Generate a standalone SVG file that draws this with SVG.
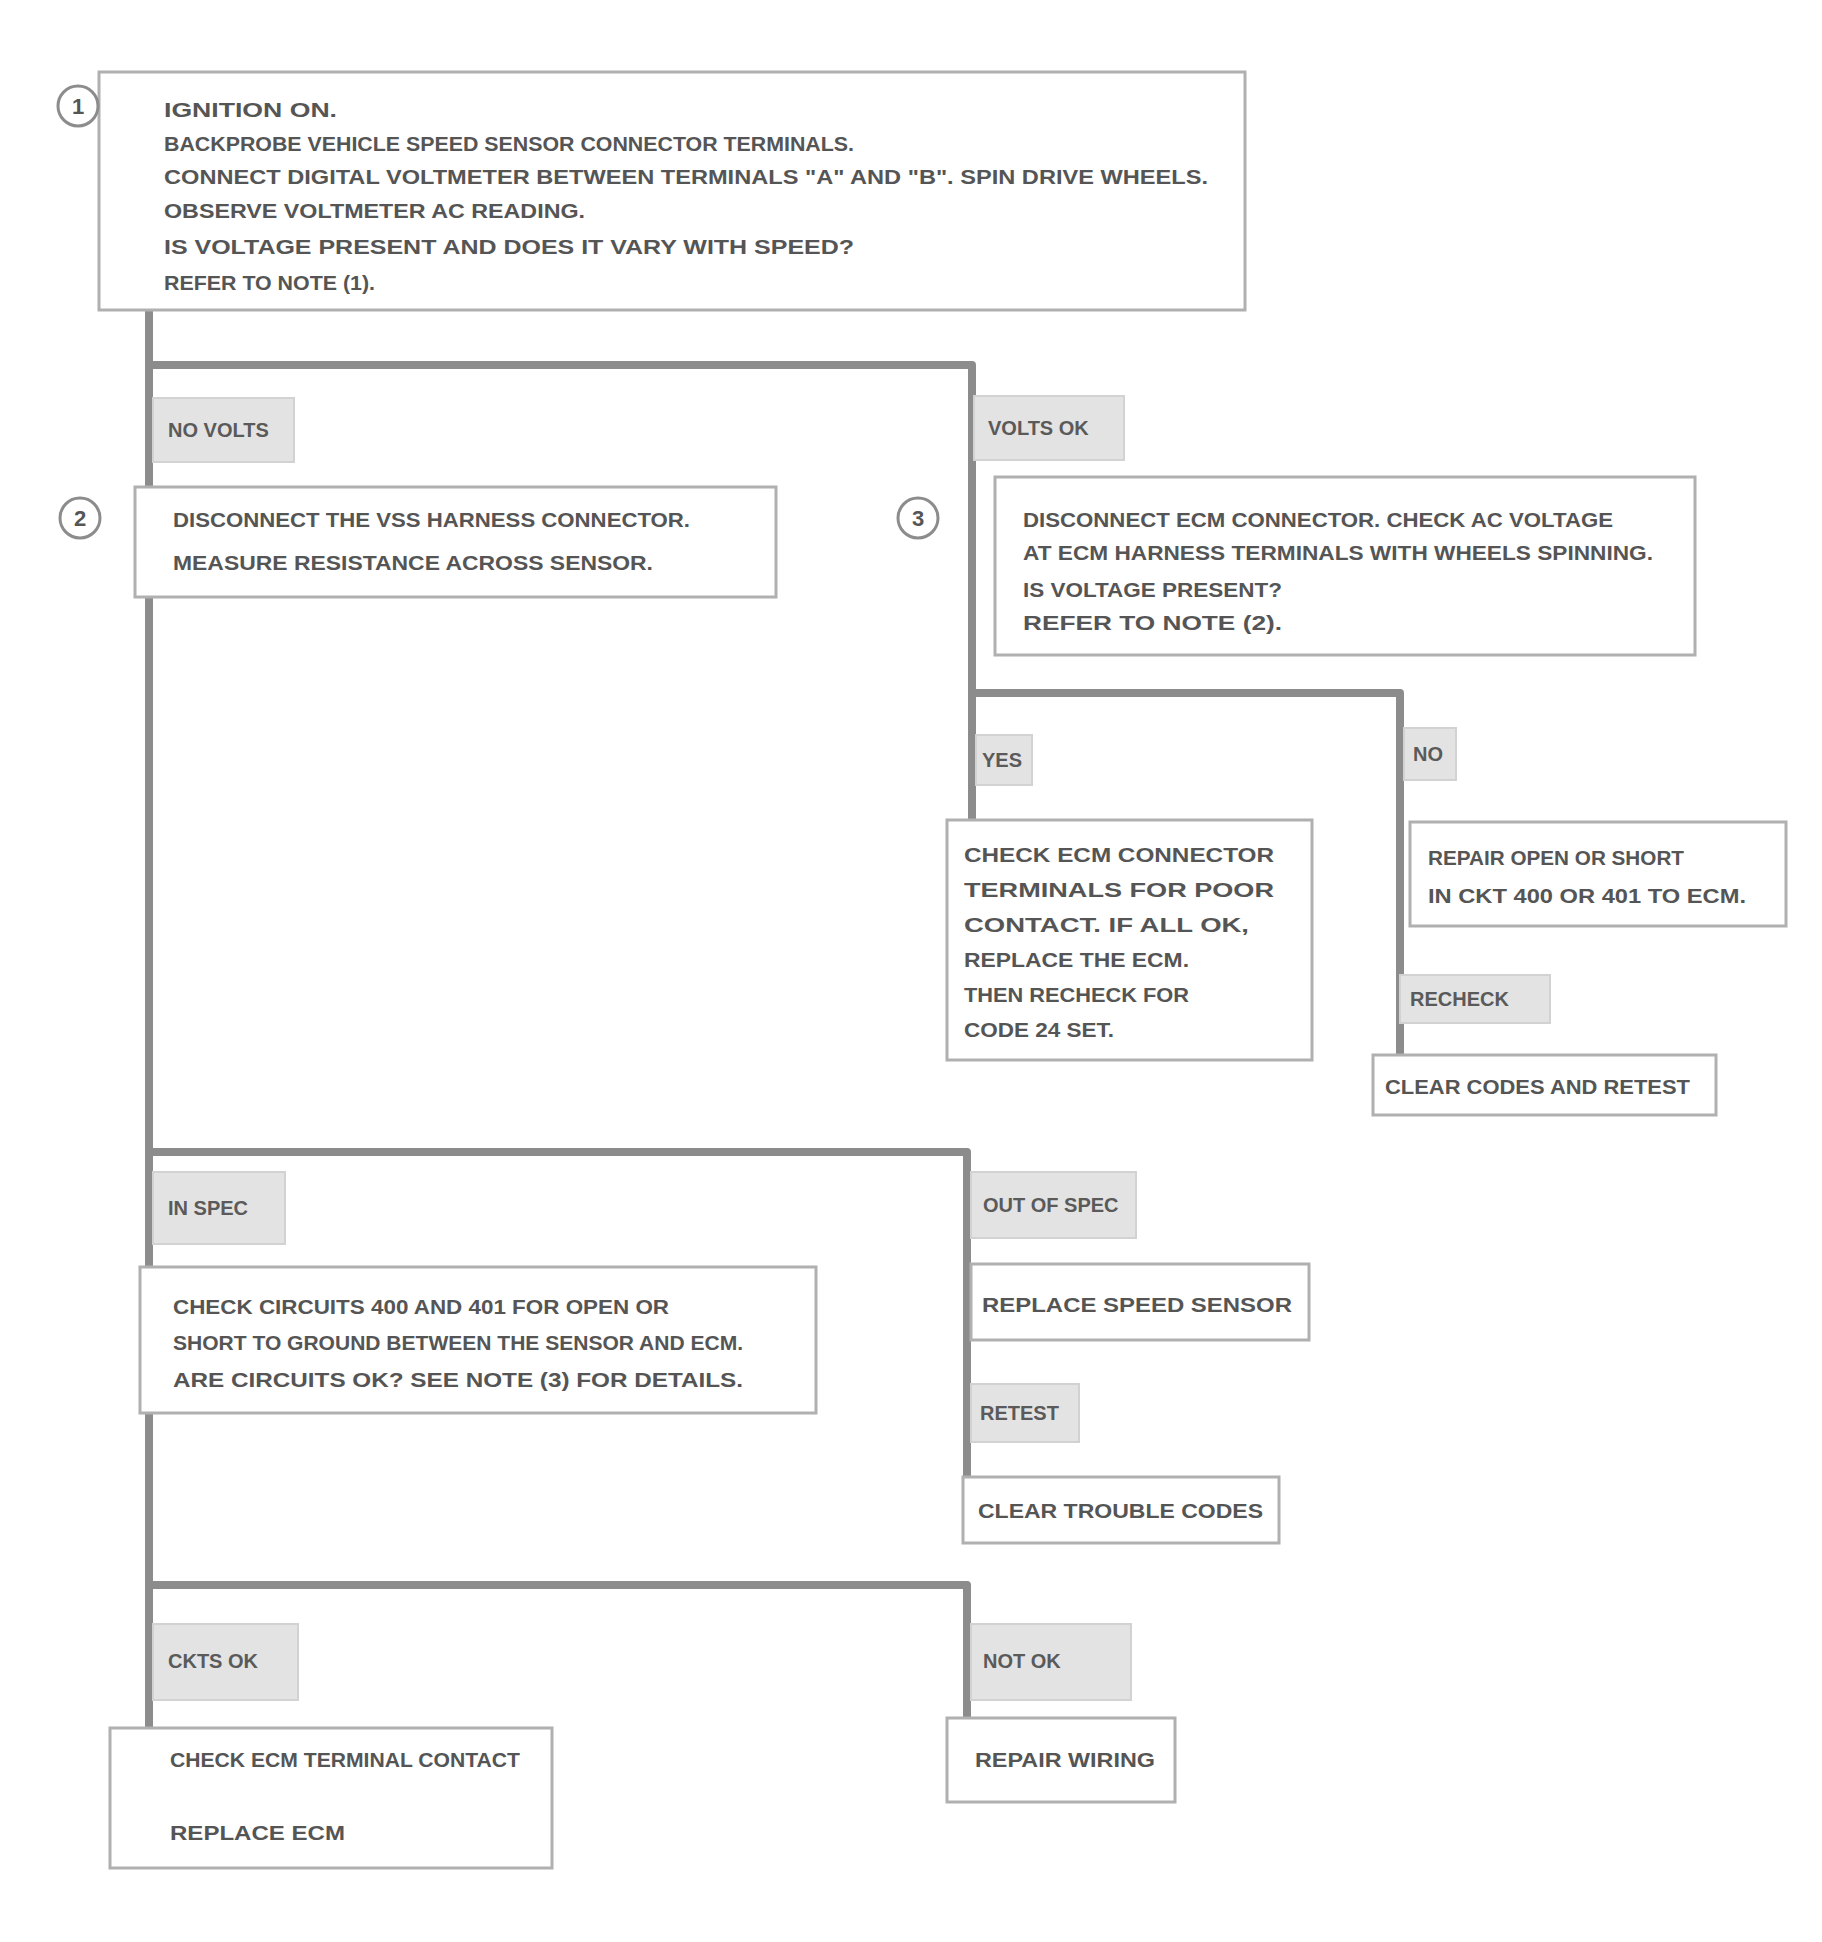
<svg xmlns="http://www.w3.org/2000/svg" width="1822" height="1942" viewBox="0 0 1822 1942">
<style>
.bg{fill:#ffffff}
.box{fill:#ffffff;stroke:#b0b0b0;stroke-width:3}
.lbl{fill:#e3e3e3;stroke:#d2d2d2;stroke-width:2}
.t{font-family:"Liberation Sans",Arial,sans-serif;font-weight:bold;font-size:21px;fill:#555555}
.lt{font-family:"Liberation Sans",Arial,sans-serif;font-weight:bold;font-size:20px;fill:#5a5a5a}
.conn{fill:none;stroke:#8c8c8c;stroke-width:8;stroke-linejoin:round;stroke-linecap:square}
.mk{fill:#ffffff;stroke:#8c8c8c;stroke-width:3}
.mt{font-family:"Liberation Sans",Arial,sans-serif;font-weight:bold;font-size:22px;fill:#555555;text-anchor:middle}
</style>
<rect class="bg" x="0" y="0" width="1822" height="1942"/>

<g id="connectors">
  <path class="conn" d="M149,310 V1728"/>
  <path class="conn" d="M149,365 H972 V820"/>
  <path class="conn" d="M972,693 H1400 V1055"/>
  <path class="conn" d="M149,1152 H967 V1476"/>
  <path class="conn" d="M149,1585 H967 V1718"/>
</g>

<g id="node-start">
  <rect class="box" x="99" y="72" width="1146" height="238"/>
  <text class="t" x="164" y="117" textLength="173" lengthAdjust="spacingAndGlyphs">IGNITION ON.</text>
  <text class="t" x="164" y="151" textLength="690" lengthAdjust="spacingAndGlyphs">BACKPROBE VEHICLE SPEED SENSOR CONNECTOR TERMINALS.</text>
  <text class="t" x="164" y="184" textLength="1044" lengthAdjust="spacingAndGlyphs">CONNECT DIGITAL VOLTMETER BETWEEN TERMINALS "A" AND "B". SPIN DRIVE WHEELS.</text>
  <text class="t" x="164" y="218" textLength="421" lengthAdjust="spacingAndGlyphs">OBSERVE VOLTMETER AC READING.</text>
  <text class="t" x="164" y="254" textLength="690" lengthAdjust="spacingAndGlyphs">IS VOLTAGE PRESENT AND DOES IT VARY WITH SPEED?</text>
  <text class="t" x="164" y="290" textLength="211" lengthAdjust="spacingAndGlyphs">REFER TO NOTE (1).</text>
</g>
<g id="marker-1">
  <circle class="mk" cx="78" cy="106" r="20"/>
  <text class="mt" x="78" y="114">1</text>
</g>

<g id="label-a-left">
  <rect class="lbl" x="153" y="398" width="141" height="64"/>
  <text class="lt" x="168" y="437">NO VOLTS</text>
</g>
<g id="label-a-right">
  <rect class="lbl" x="974" y="396" width="150" height="64"/>
  <text class="lt" x="988" y="435">VOLTS OK</text>
</g>

<g id="node-left-a">
  <rect class="box" x="135" y="487" width="641" height="110"/>
  <text class="t" x="173" y="527" textLength="517" lengthAdjust="spacingAndGlyphs">DISCONNECT THE VSS HARNESS CONNECTOR.</text>
  <text class="t" x="173" y="570" textLength="480" lengthAdjust="spacingAndGlyphs">MEASURE RESISTANCE ACROSS SENSOR.</text>
</g>
<g id="marker-2">
  <circle class="mk" cx="80" cy="518" r="20"/>
  <text class="mt" x="80" y="526">2</text>
</g>

<g id="node-right-a">
  <rect class="box" x="995" y="477" width="700" height="178"/>
  <text class="t" x="1023" y="527" textLength="590" lengthAdjust="spacingAndGlyphs">DISCONNECT ECM CONNECTOR. CHECK AC VOLTAGE</text>
  <text class="t" x="1023" y="560" textLength="630" lengthAdjust="spacingAndGlyphs">AT ECM HARNESS TERMINALS WITH WHEELS SPINNING.</text>
  <text class="t" x="1023" y="597" textLength="259" lengthAdjust="spacingAndGlyphs">IS VOLTAGE PRESENT?</text>
  <text class="t" x="1023" y="630" textLength="259" lengthAdjust="spacingAndGlyphs">REFER TO NOTE (2).</text>
</g>
<g id="marker-3">
  <circle class="mk" cx="918" cy="518" r="20"/>
  <text class="mt" x="918" y="526">3</text>
</g>

<g id="label-sub-yes">
  <rect class="lbl" x="976" y="735" width="56" height="50"/>
  <text class="lt" x="982" y="767">YES</text>
</g>
<g id="label-sub-no">
  <rect class="lbl" x="1404" y="728" width="52" height="52"/>
  <text class="lt" x="1413" y="761">NO</text>
</g>

<g id="node-sub-left">
  <rect class="box" x="947" y="820" width="365" height="240"/>
  <text class="t" x="964" y="862" textLength="310" lengthAdjust="spacingAndGlyphs">CHECK ECM CONNECTOR</text>
  <text class="t" x="964" y="897" textLength="310" lengthAdjust="spacingAndGlyphs">TERMINALS FOR POOR</text>
  <text class="t" x="964" y="932" textLength="285" lengthAdjust="spacingAndGlyphs">CONTACT. IF ALL OK,</text>
  <text class="t" x="964" y="967" textLength="225" lengthAdjust="spacingAndGlyphs">REPLACE THE ECM.</text>
  <text class="t" x="964" y="1002" textLength="225" lengthAdjust="spacingAndGlyphs">THEN RECHECK FOR</text>
  <text class="t" x="964" y="1037" textLength="150" lengthAdjust="spacingAndGlyphs">CODE 24 SET.</text>
</g>

<g id="node-sub-right">
  <rect class="box" x="1410" y="822" width="376" height="104"/>
  <text class="t" x="1428" y="865" textLength="256" lengthAdjust="spacingAndGlyphs">REPAIR OPEN OR SHORT</text>
  <text class="t" x="1428" y="903" textLength="318" lengthAdjust="spacingAndGlyphs">IN CKT 400 OR 401 TO ECM.</text>
</g>
<g id="label-recheck">
  <rect class="lbl" x="1400" y="975" width="150" height="48"/>
  <text class="lt" x="1410" y="1006">RECHECK</text>
</g>
<g id="node-sub-end">
  <rect class="box" x="1373" y="1055" width="343" height="60"/>
  <text class="t" x="1385" y="1094" textLength="305" lengthAdjust="spacingAndGlyphs">CLEAR CODES AND RETEST</text>
</g>

<g id="label-b-left">
  <rect class="lbl" x="153" y="1172" width="132" height="72"/>
  <text class="lt" x="168" y="1215">IN SPEC</text>
</g>
<g id="label-b-right">
  <rect class="lbl" x="971" y="1172" width="165" height="66"/>
  <text class="lt" x="983" y="1212">OUT OF SPEC</text>
</g>

<g id="node-left-b">
  <rect class="box" x="140" y="1267" width="676" height="146"/>
  <text class="t" x="173" y="1314" textLength="496" lengthAdjust="spacingAndGlyphs">CHECK CIRCUITS 400 AND 401 FOR OPEN OR</text>
  <text class="t" x="173" y="1350" textLength="570" lengthAdjust="spacingAndGlyphs">SHORT TO GROUND BETWEEN THE SENSOR AND ECM.</text>
  <text class="t" x="173" y="1387" textLength="570" lengthAdjust="spacingAndGlyphs">ARE CIRCUITS OK? SEE NOTE (3) FOR DETAILS.</text>
</g>

<g id="node-right-b1">
  <rect class="box" x="971" y="1264" width="338" height="76"/>
  <text class="t" x="982" y="1312" textLength="310" lengthAdjust="spacingAndGlyphs">REPLACE SPEED SENSOR</text>
</g>
<g id="label-retest">
  <rect class="lbl" x="971" y="1384" width="108" height="58"/>
  <text class="lt" x="980" y="1420">RETEST</text>
</g>
<g id="node-right-b2">
  <rect class="box" x="963" y="1477" width="316" height="66"/>
  <text class="t" x="978" y="1518" textLength="285" lengthAdjust="spacingAndGlyphs">CLEAR TROUBLE CODES</text>
</g>

<g id="label-c-left">
  <rect class="lbl" x="153" y="1624" width="145" height="76"/>
  <text class="lt" x="168" y="1668">CKTS OK</text>
</g>
<g id="label-c-right">
  <rect class="lbl" x="971" y="1624" width="160" height="76"/>
  <text class="lt" x="983" y="1668">NOT OK</text>
</g>

<g id="node-left-c">
  <rect class="box" x="110" y="1728" width="442" height="140"/>
  <text class="t" x="170" y="1767" textLength="350" lengthAdjust="spacingAndGlyphs">CHECK ECM TERMINAL CONTACT</text>
  <text class="t" x="170" y="1840" textLength="175" lengthAdjust="spacingAndGlyphs">REPLACE ECM</text>
</g>
<g id="node-right-c">
  <rect class="box" x="947" y="1718" width="228" height="84"/>
  <text class="t" x="975" y="1767" textLength="180" lengthAdjust="spacingAndGlyphs">REPAIR WIRING</text>
</g>
</svg>
